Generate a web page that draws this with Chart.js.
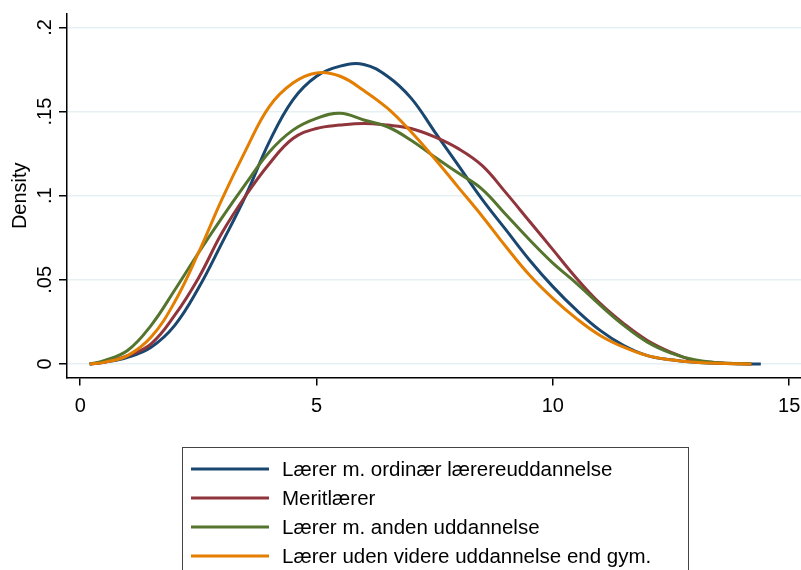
<!DOCTYPE html>
<html>
<head>
<meta charset="utf-8">
<script src="https://cdn.jsdelivr.net/npm/chart.js@4.4.1/dist/chart.umd.min.js"></script>
<style>
  html, body { margin: 0; padding: 0; background: #fff; }
  #wrap { width: 801px; height: 570px; position: relative; }
</style>
</head>
<body>
<div id="wrap"><canvas id="densityChart"></canvas></div>
<script>
const FONT = '"Liberation Sans", Arial, sans-serif';

// evaluation points of the kernel density
const xGrid = [0.2, 0.5, 1, 1.5, 2, 2.5, 3, 3.5, 4, 4.5, 5, 5.5, 6, 6.5, 7, 7.5, 8, 8.5, 9, 9.5, 10, 10.5, 11, 11.5, 12, 12.5, 13, 13.5, 14, 14.2, 14.4];

const ordinaer = [0, 0.001, 0.004, 0.010, 0.023, 0.045, 0.072, 0.100, 0.132, 0.157, 0.171, 0.177, 0.178, 0.171, 0.158, 0.138, 0.118, 0.098, 0.080, 0.062, 0.046, 0.032, 0.020, 0.011, 0.005, 0.0025, 0.001, 0.0004, 0.0001, 0.00005, 0];
const merit = [0, 0.001, 0.005, 0.012, 0.029, 0.051, 0.078, 0.100, 0.119, 0.134, 0.140, 0.142, 0.143, 0.142, 0.140, 0.135, 0.128, 0.118, 0.102, 0.085, 0.068, 0.051, 0.036, 0.024, 0.014, 0.007, 0.002, 0.0008, 0.0002, 0, null];
const anden = [0, 0.002, 0.008, 0.023, 0.044, 0.066, 0.087, 0.107, 0.126, 0.139, 0.146, 0.149, 0.145, 0.141, 0.133, 0.123, 0.1135, 0.104, 0.089, 0.074, 0.060, 0.048, 0.035, 0.023, 0.013, 0.0065, 0.0025, 0.0008, 0.0002, 0.00005, null];
const udenVidere = [0, 0.001, 0.005, 0.016, 0.037, 0.066, 0.098, 0.127, 0.153, 0.167, 0.173, 0.171, 0.1625, 0.152, 0.138, 0.122, 0.105, 0.088, 0.070, 0.053, 0.039, 0.027, 0.017, 0.010, 0.005, 0.0025, 0.001, 0.0004, 0.0001, 0, null];

const seriesLabels = [
    'Lærer m. ordinær lærereuddannelse',
    'Meritlærer',
    'Lærer m. anden uddannelse',
    'Lærer uden videre uddannelse end gym.'
];
const seriesColors = ['#1a476f', '#90353b', '#55752f', '#e37e00'];

const xTicks = [0, 5, 10, 15];
const yTicks = [0, 0.05, 0.1, 0.15, 0.2];
const yTickLabels = ['0', '.05', '.1', '.15', '.2'];

function toPoints(values) {
    return xGrid.map((x, i) => ({ x: x, y: values[i] }));
}

// y labels are rotated in Stata style, so draw them here
const yAxisText = {
    id: 'yAxisText',
    afterDraw(chart) {
        const ctx = chart.ctx;
        const yScale = chart.scales.y;
        ctx.save();
        ctx.fillStyle = '#000';
        ctx.font = '20px ' + FONT;
        ctx.textAlign = 'center';
        ctx.textBaseline = 'alphabetic';
        yTicks.forEach((v, i) => {
            const py = yScale.getPixelForValue(v);
            ctx.save();
            ctx.translate(51, py);
            ctx.rotate(-Math.PI / 2);
            ctx.fillText(yTickLabels[i], 0, 0);
            ctx.restore();
        });
        ctx.translate(26, (yScale.top + yScale.bottom) / 2);
        ctx.rotate(-Math.PI / 2);
        ctx.fillText('Density', 0, 0);
        ctx.restore();
    }
};

const legendBox = {
    id: 'legendBox',
    afterDraw(chart) {
        const ctx = chart.ctx;
        ctx.save();
        ctx.strokeStyle = '#444';
        ctx.lineWidth = 1;
        ctx.strokeRect(182.5, 447.5, 506, 160);
        ctx.font = '20.5px ' + FONT;
        ctx.textAlign = 'left';
        ctx.textBaseline = 'middle';
        chart.data.datasets.forEach((ds, i) => {
            const y = 469 + i * 29;
            ctx.strokeStyle = ds.borderColor;
            ctx.lineWidth = 3;
            ctx.beginPath();
            ctx.moveTo(191, y);
            ctx.lineTo(269, y);
            ctx.stroke();
            ctx.fillStyle = '#000';
            ctx.fillText(ds.label, 282, y + 1);
        });
        ctx.restore();
    }
};

const allSeries = [ordinaer, merit, anden, udenVidere];

new Chart(document.getElementById('densityChart').getContext('2d'), {
    type: 'line',
    data: {
        datasets: allSeries.map((vals, i) => ({
            label: seriesLabels[i],
            data: toPoints(vals),
            borderColor: seriesColors[i],
            backgroundColor: seriesColors[i],
            borderWidth: 3,
            pointRadius: 0,
            fill: false,
            tension: 0.4,
            order: 3 - i
        }))
    },
    options: {
        responsive: true,
        maintainAspectRatio: false,
        animation: false,
        layout: { padding: { left: 0, right: 0, top: 14, bottom: 142.5 } },
        plugins: {
            legend: { display: false },
            tooltip: { enabled: false }
        },
        scales: {
            x: {
                type: 'linear',
                min: -0.28,
                max: 15.25,
                afterBuildTicks: s => { s.ticks = xTicks.map(v => ({ value: v })); },
                afterFit: s => { s.height = 50; s.paddingLeft = 0; s.paddingRight = 0; },
                ticks: {
                    color: '#000',
                    font: { family: FONT, size: 20 },
                    padding: 9,
                    maxRotation: 0,
                    autoSkip: false,
                    callback: v => String(v)
                },
                grid: { drawOnChartArea: false, tickLength: 8, tickColor: '#000', lineWidth: 1.5 },
                border: { color: '#000', width: 1.5 }
            },
            y: {
                type: 'linear',
                min: -0.008,
                max: 0.208,
                afterBuildTicks: s => { s.ticks = yTicks.map(v => ({ value: v })); },
                afterFit: s => { s.width = 67; s.paddingTop = 0; s.paddingBottom = 0; },
                ticks: { display: false },
                grid: { color: '#e6eff1', lineWidth: 1.5, tickLength: 8, tickColor: '#000' },
                border: { color: '#000', width: 1.5 }
            }
        }
    },
    plugins: [yAxisText, legendBox]
});
</script>
</body>
</html>
